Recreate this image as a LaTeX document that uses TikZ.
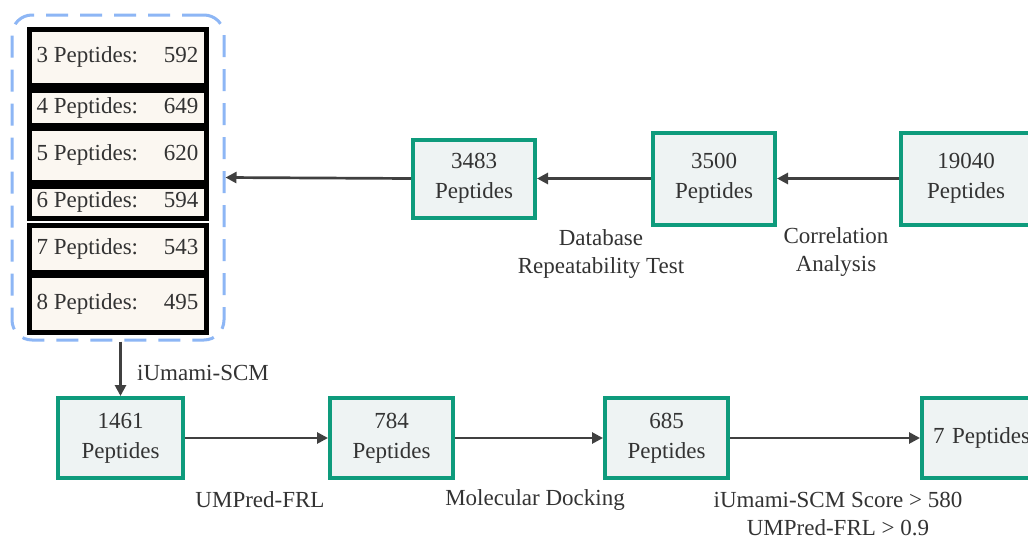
\documentclass[tikz,border=0pt]{standalone}
\usepackage{fontspec}
\setmainfont{LiberationSerif}[Extension=.ttf,UprightFont=*-Regular]
\newfontfamily\tnr{LiberationSerif}[Extension=.ttf,UprightFont=*-Regular]
\usetikzlibrary{arrows.meta}
\definecolor{tealbox}{HTML}{0E9B7C}
\definecolor{boxfill}{HTML}{EEF3F3}
\definecolor{cream}{HTML}{FBF7F1}
\definecolor{dashblue}{HTML}{8DB6F5}
\definecolor{arrowgray}{HTML}{404040}
\definecolor{txt}{HTML}{333333}
\tikzset{
  pepbox/.style={draw=tealbox, line width=4pt, fill=boxfill, minimum width=120pt, minimum height=78pt, align=center, text=txt, font=\tnr\fontsize{23}{30}\selectfont, inner sep=0pt},
  rowbox/.style={draw=black, line width=5pt, fill=cream, minimum width=177pt, inner sep=0pt, text=txt, font=\tnr\fontsize{23}{28}\selectfont},
  flow/.style={draw=arrowgray, line width=2.7pt, -{Triangle[length=11pt,width=11pt]}},
  lbl/.style={text=txt, font=\tnr\fontsize{23}{28}\selectfont, align=center, inner sep=0pt},
}
\newcommand{\rowtxt}[2]{\makebox[162pt]{#1 Peptides:\hspace{14pt}\hfill #2}}
\begin{document}
\begin{tikzpicture}[x=1pt,y=-1pt]
\clip (0,0) rectangle (1028,538);
\useasboundingbox (0,0) rectangle (1028,538);
\fill[white] (0,0) rectangle (1028,538);
% group
\node[draw=dashblue, line width=3pt, dash pattern=on 22pt off 12pt, rounded corners=20pt, minimum width=212pt, minimum height=325pt, inner sep=0pt] (grp) at (118,177.5) {};
\node[rowbox, minimum height=56pt] (r3) at (117.5,57) {\rowtxt{3}{592}};
\node[rowbox, minimum height=35pt] (r4) at (117.5,107.5) {\rowtxt{4}{649}};
\node[rowbox, minimum height=54pt] (r5) at (117.5,155) {\rowtxt{5}{620}};
\node[rowbox, minimum height=32pt] (r6) at (117.5,202) {\rowtxt{6}{594}};
\node[rowbox, minimum height=47pt] (r7) at (117.5,248.5) {\rowtxt{7}{543}};
\node[rowbox, minimum height=57pt] (r8) at (117.5,303.5) {\rowtxt{8}{495}};
% top row
\node[pepbox, minimum width=122pt, minimum height=78pt] (b3483) at (474,178.5) {3483\\Peptides};
\node[pepbox, minimum width=122pt, minimum height=92pt] (b3500) at (714,178.5) {3500\\Peptides};
\node[pepbox, minimum width=130pt, minimum height=92pt] (b19040) at (966,178.5) {19040\\Peptides};
\draw[flow] (b19040.west) -- (b3500.east);
\draw[flow] (b3500.west) -- (b3483.east);
\draw[flow] (b3483.west) -- (grp.east);
\node[lbl] (l1) at (601,254) {Database\\Repeatability Test};
\node[lbl] (l2) at (836,252) {Correlation\\Analysis};
% bottom row
\node[pepbox, minimum width=125pt, minimum height=80pt] (b1461) at (120.5,438) {1461\\Peptides};
\node[pepbox, minimum width=123pt, minimum height=80pt] (b784) at (391.5,438) {784\\Peptides};
\node[pepbox, minimum width=123pt, minimum height=80pt] (b685) at (666.5,438) {685\\Peptides};
\node[pepbox, minimum width=150pt, minimum height=80pt, anchor=west, text width=140pt, align=left] (b7) at (920,438) {\hspace*{6pt}7 Peptides};
\draw[flow] (grp.south -| b1461.north) -- (b1461.north);
\draw[flow] (b1461.east) -- (b784.west);
\draw[flow] (b784.east) -- (b685.west);
\draw[flow] (b685.east) -- (b7.west);
\node[lbl, anchor=west] (l3) at (137,373) {iUmami-SCM};
\node[lbl] (l4) at (260,500) {UMPred-FRL};
\node[lbl] (l5) at (535,500) {Molecular Docking};
\node[lbl] (l6) at (838,514) {iUmami-SCM Score > 580\\UMPred-FRL > 0.9};
\end{tikzpicture}
\end{document}
